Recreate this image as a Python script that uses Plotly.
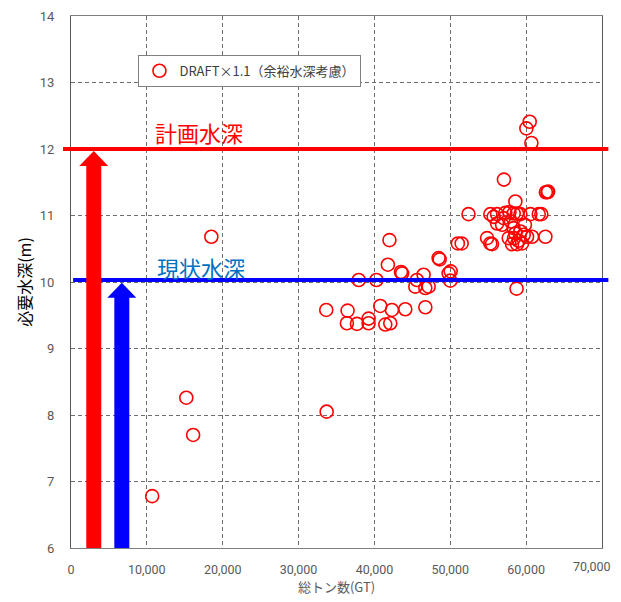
import plotly.graph_objects as go

# ---- data ----
gt = [10700, 15200, 16100, 18500, 33700, 33650,
      36460, 36370, 37700, 39230, 39230, 37930, 40260, 40770, 41430, 42090, 42310, 44070,
      41980, 41770, 43500, 43650, 46710, 45600, 46480, 45390, 46710, 47150, 48460, 48600,
      49780, 50050, 50000, 51000, 51500, 52400,
      57070, 62600, 62800, 62900, 60470, 60030, 60690, 58580,
      55280, 56170, 57260, 58360, 59240, 60560, 61660, 62000, 57800, 58800, 55720,
      56170, 56830, 57040, 58360, 58580, 59240, 59680, 58000, 59840,
      54850, 55280, 55500, 57700, 58140, 58800, 59460, 60120, 60780, 62540, 59000, 58400,
      58740]
depth = [6.78, 8.26, 7.70, 10.68, 8.05, 9.58,
         9.57, 9.38, 9.37, 9.45, 9.38, 10.03, 10.03, 9.64, 9.36, 9.38, 9.58, 9.59,
         10.63, 10.26, 10.15, 10.13, 9.62, 10.03, 10.11, 9.93, 9.91, 9.93, 10.36, 10.34,
         10.13, 10.16, 10.02, 10.58, 10.58, 11.02,
         11.54, 11.35, 11.35, 11.36, 12.41, 12.31, 12.09, 11.21,
         11.02, 11.02, 11.04, 11.03, 11.02, 11.02, 11.02, 11.02, 11.05, 11.03, 10.98,
         10.88, 10.86, 10.96, 10.81, 10.73, 10.76, 10.71, 10.91, 10.86,
         10.66, 10.58, 10.57, 10.66, 10.57, 10.57, 10.58, 10.68, 10.68, 10.68, 10.62, 10.66,
         9.90]

series_name = "DRAFT×1.1（余裕水深考慮）"
plan_depth = 12.0
current_depth = 10.03
plan_label = "計画水深"
current_label = "現状水深"
arrow_x = [3000, 6700]          # GT positions of the two arrows
x_ticks = [0, 10000, 20000, 30000, 40000, 50000, 60000, 70000]
y_ticks = [6, 7, 8, 9, 10, 11, 12, 13, 14]

JP = "Noto Sans CJK JP"
NUM = "Roboto, Noto Sans CJK JP, sans-serif"
RED = "#FF0000"
BLUE = "#0000FF"
LBLUE = "#0070C0"
TICK_COLOR = "#595959"

fig = go.Figure()
fig.add_trace(go.Scatter(
    x=gt, y=depth, mode="markers", name=series_name,
    marker=dict(symbol="circle-open", size=13, color=RED, line=dict(width=1.6, color=RED)),
    showlegend=True))

plot_w_px = 531.0
plot_h_px = 532.0
xr = (0, 70000)
yr = (6, 14)
dx_per_px = (xr[1] - xr[0]) / plot_w_px
dy_per_px = (yr[1] - yr[0]) / plot_h_px

shapes = []
shapes.append(dict(type="line", xref="paper", yref="y", x0=-0.015, x1=1.012,
                   y0=plan_depth, y1=plan_depth, line=dict(color=RED, width=4), layer="above"))
shapes.append(dict(type="line", xref="paper", yref="y", x0=0.004, x1=1.012,
                   y0=current_depth, y1=current_depth, line=dict(color=BLUE, width=4), layer="above"))

def arrow(xc, tip, color):
    hw = 7.5 * dx_per_px
    hhw = 14.5 * dx_per_px
    hh = 15 * dy_per_px
    base = tip - hh
    return [dict(type="rect", xref="x", yref="y", x0=xc - hw, x1=xc + hw, y0=yr[0], y1=base + 0.01,
                 fillcolor=color, line=dict(width=0), layer="above"),
            dict(type="path", xref="x", yref="y",
                 path=f"M {xc - hhw},{base} L {xc + hhw},{base} L {xc},{tip} Z",
                 fillcolor=color, line=dict(width=0), layer="above")]

shapes += arrow(arrow_x[1], current_depth - 0.04, BLUE)
shapes += arrow(arrow_x[0], plan_depth - 0.03, RED)

# tick texts: the last one is drawn as a right-anchored annotation so it stays in view
x_ticktext = [f"{v:,}" for v in x_ticks[:-1]] + [""]

annotations = [
    dict(x=16900, y=12.25, xref="x", yref="y", text=plan_label, showarrow=False,
         font=dict(family=JP, size=22, color=RED)),
    dict(x=17100, y=10.22, xref="x", yref="y", text=current_label, showarrow=False,
         font=dict(family=JP, size=22, color=LBLUE)),
    dict(x=x_ticks[-1], y=0, xref="x", yref="paper", text=f"{x_ticks[-1]:,}", showarrow=False,
         xanchor="right", yanchor="top", xshift=11, yshift=-9,
         font=dict(family=NUM, size=12.5, color=TICK_COLOR)),
]

# The page adds an 8px body margin, so plot-area margins are offset by 8px.
fig.update_layout(
    width=621, height=602,
    margin=dict(l=63, r=27, t=8, b=62, autoexpand=False),
    paper_bgcolor="white", plot_bgcolor="white",
    font=dict(family=JP, size=12, color=TICK_COLOR),
    shapes=shapes, annotations=annotations,
    legend=dict(x=0.127, y=0.927, xanchor="left", yanchor="top",
                bgcolor="white", bordercolor="#808080", borderwidth=1,
                font=dict(family=JP, size=13, color="#404040"),
                itemwidth=30, tracegroupgap=0),
    showlegend=True,
)
fig.update_xaxes(
    range=list(xr), tickvals=x_ticks, ticktext=x_ticktext, automargin=False,
    ticklabeloverflow="allow",
    showgrid=True, gridcolor="#6E6E6E", griddash="4px,3px", gridwidth=1,
    showline=True, linecolor="#7F7F7F", mirror=True, linewidth=1,
    zeroline=False, ticks="", ticklabelstandoff=10,
    tickfont=dict(family=NUM, size=12.5, color=TICK_COLOR),
    title=dict(text="総トン数(GT)", font=dict(family=JP, size=13, color=TICK_COLOR), standoff=6),
)
fig.update_yaxes(
    range=list(yr), tickvals=y_ticks, automargin=False,
    ticklabeloverflow="allow",
    showgrid=True, gridcolor="#6E6E6E", griddash="4px,3px", gridwidth=1,
    showline=True, linecolor="#595959", mirror=True, linewidth=1,
    zeroline=False, ticks="", ticklabelstandoff=13,
    tickfont=dict(family=NUM, size=13, color=TICK_COLOR),
    title=dict(text="必要水深(m)", font=dict(family=JP, size=16, color="#000000"), standoff=4),
)

fig.write_html("out.html")
